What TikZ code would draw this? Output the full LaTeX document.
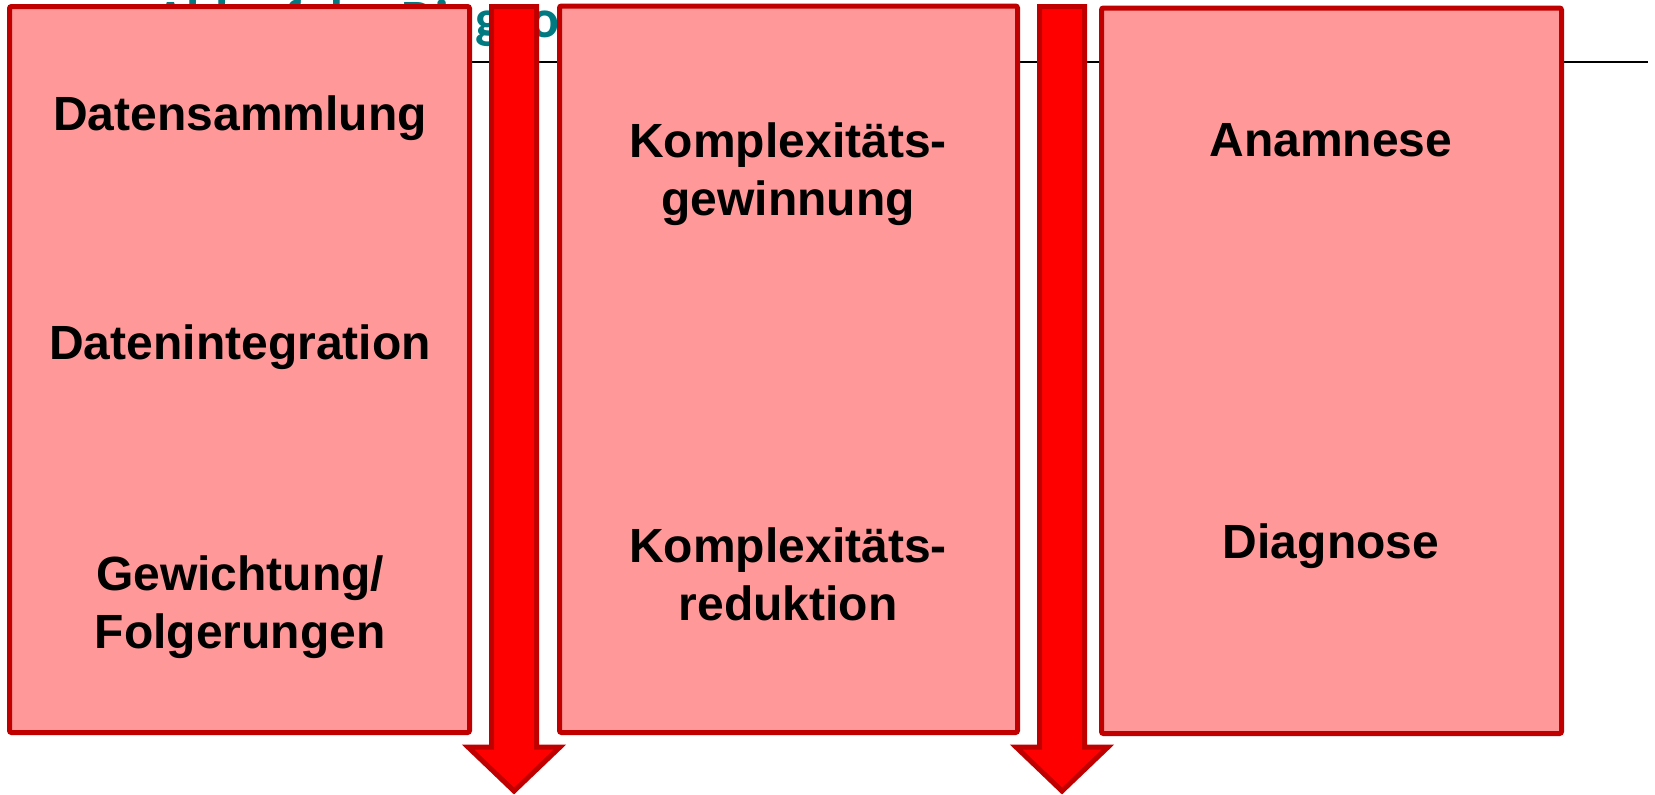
\documentclass[tikz,border=0pt]{standalone}
\usepackage{fontspec}
\setmainfont{Liberation Sans}
\newfontfamily\titlefont{Carlito}
\definecolor{boxred}{RGB}{192,0,0}
\definecolor{boxfill}{RGB}{255,153,153}
\definecolor{titleteal}{RGB}{0,122,128}
\tikzset{
  stepbox/.style={draw=boxred,fill=boxfill,line width=5pt,rounded corners=2pt},
  downarrow/.style={draw=boxred,fill=red,line width=5pt,line join=miter},
  boxtext/.style={font=\bfseries\fontsize{48}{58}\selectfont,align=center,inner sep=0pt}
}
\begin{document}
\begin{tikzpicture}[x=1pt,y=-1pt]
    \useasboundingbox (0,0) rectangle (1655,795);
    % title and rule behind the boxes
    \node[anchor=base west,inner sep=0pt,text=titleteal,font=\titlefont\bfseries\fontsize{54}{60}\selectfont] (title) at (154,37) {Ablauf der Diagnose};
    \draw[line width=2.5pt] (20,62) -- (1648,62);
    % boxes
    \draw[stepbox] (9.5,6.5) rectangle (469.5,732.5);
    \draw[stepbox] (559.5,6) rectangle (1017.5,732.5);
    \draw[stepbox] (1101.5,8) rectangle (1561.5,733.5);
    % arrows
    \draw[downarrow] (491.5,6.5) -- (536.5,6.5) -- (536.5,747) -- (560,747) -- (514,791) -- (468,747) -- (491.5,747) -- cycle;
    \draw[downarrow] (1039.5,6.5) -- (1084.5,6.5) -- (1084.5,747) -- (1108,747) -- (1062,791) -- (1016,747) -- (1039.5,747) -- cycle;
    % texts
    \node[boxtext] (sammlung) at (240,118) {Datensammlung};
    \node[boxtext] (integration) at (240,347) {Datenintegration};
    \node[boxtext] (folgerung) at (240,607) {Gewichtung/\\Folgerungen};
    \node[boxtext] (gewinnung) at (788,174) {Komplexitäts-\\gewinnung};
    \node[boxtext] (reduktion) at (788,574) {Komplexitäts-\\reduktion};
    \node[boxtext] (anamnese) at (1331,140) {Anamnese};
    \node[boxtext] (diagnose) at (1331,546) {Diagnose};
\end{tikzpicture}
\end{document}
